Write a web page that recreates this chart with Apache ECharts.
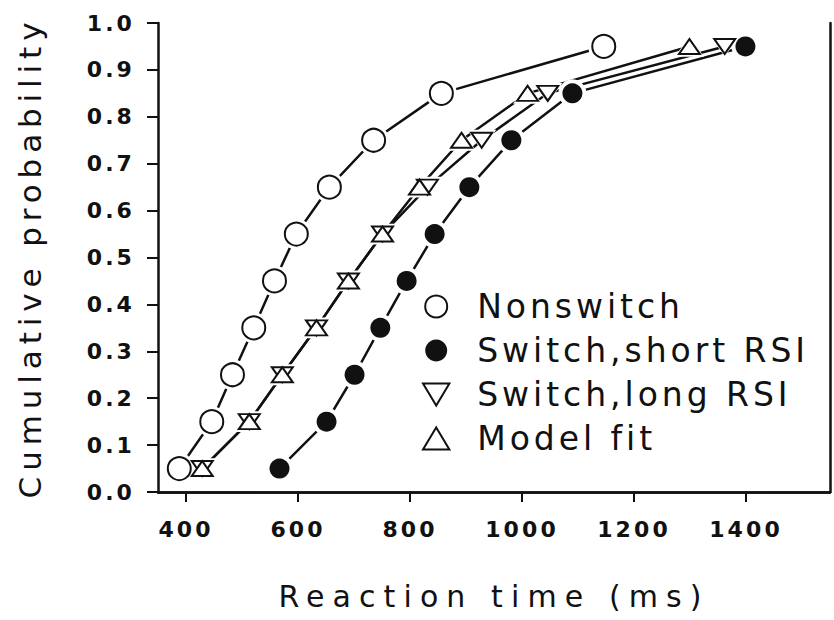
<!DOCTYPE html>
<html>
<head>
<meta charset="utf-8">
<script src="https://cdn.jsdelivr.net/npm/echarts@6/dist/echarts.min.js"></script>
<style>
html,body{margin:0;padding:0;background:#fff;}
#c{width:834px;height:620px;}
</style>
</head>
<body>
<div id="c"></div>
<script>
// ---- data ----
const probs = [0.05, 0.15, 0.25, 0.35, 0.45, 0.55, 0.65, 0.75, 0.85, 0.95];
const nonswitchRT   = [388, 446, 483, 521, 558, 597, 656, 735, 856, 1146];
const switchShortRT = [567, 651, 701, 747, 794, 844, 906, 981, 1090, 1399];
const switchLongRT  = [429, 513, 572, 633, 690, 751, 831, 928, 1046, 1362];
const modelFitRT    = [429, 513, 572, 633, 690, 751, 817, 892, 1010, 1299];
const xTicks = [400, 600, 800, 1000, 1200, 1400];
const yTicks = [0, 0.1, 0.2, 0.3, 0.4, 0.5, 0.6, 0.7, 0.8, 0.9, 1.0];
const seriesNames = ['Nonswitch', 'Switch,short RSI', 'Switch,long RSI', 'Model fit'];
const xTitle = 'Reaction time (ms)';
const yTitle = 'Cumulative probability';

// ---- styles ----
const INK = '#111';
const FONT = 'DejaVu Sans';
const DOWN_TRI = 'path://M0,0L24,0L12,20Z';
const UP_TRI = 'path://M0,20L24,20L12,0Z';

const sets = [
  { name: seriesNames[0], xs: nonswitchRT,   symbol: 'circle', size: 23, halo: 31, fill: '#fff', bw: 2 },
  { name: seriesNames[1], xs: switchShortRT, symbol: 'circle', size: 20, halo: 28, fill: INK,   bw: 0 },
  { name: seriesNames[2], xs: switchLongRT,  symbol: DOWN_TRI, size: [21, 18], halo: [29, 25], fill: '#fff', bw: 2 },
  { name: seriesNames[3], xs: modelFitRT,    symbol: UP_TRI,   size: [21, 18], halo: [29, 25], fill: '#fff', bw: 2 }
];

const pts = xs => xs.map((x, i) => [x, probs[i]]);

const series = [];
sets.forEach(s => {
  series.push({
    name: s.name + ' line', type: 'line', data: pts(s.xs), z: 2, silent: true,
    showSymbol: false, symbol: 'none',
    lineStyle: { color: INK, width: 2.5 }
  });
});
sets.forEach(s => {
  series.push({
    name: s.name + ' halo', type: 'scatter', data: pts(s.xs), z: 3, silent: true,
    symbol: s.symbol, symbolSize: s.halo, symbolKeepAspect: true,
    itemStyle: { color: '#fff', opacity: 1 }
  });
});
sets.forEach(s => {
  series.push({
    name: s.name, type: 'scatter', data: pts(s.xs), z: 4,
    symbol: s.symbol, symbolSize: s.size, symbolKeepAspect: true,
    itemStyle: { color: s.fill, borderColor: INK, borderWidth: s.bw, opacity: 1 }
  });
});

const axisLineStyle = { color: INK, width: 2.5 };

const option = {
  animation: false,
  backgroundColor: '#fff',
  grid: { left: 158, right: 4, top: 23, bottom: 128, containLabel: false },
  legend: {
    orient: 'vertical',
    left: 422,
    top: 290,
    padding: 0,
    itemWidth: 72,
    itemHeight: 22,
    itemGap: 11,
    symbolKeepAspect: true,
    selectedMode: false,
    textStyle: { fontFamily: FONT, fontSize: 33, color: INK, lineHeight: 33 },
    data: sets.map(s => ({
      name: s.name,
      icon: s.symbol,
      itemStyle: { color: s.fill, borderColor: INK, borderWidth: s.bw }
    }))
  },
  xAxis: [
    {
      type: 'value', position: 'bottom', min: 350, max: 1550,
      name: xTitle, nameLocation: 'middle', nameGap: 89,
      nameTextStyle: { fontFamily: FONT, fontSize: 30, color: INK },
      axisLine: { show: true, lineStyle: axisLineStyle },
      axisTick: { show: true, inside: false, length: 10, customValues: xTicks, lineStyle: { color: INK, width: 2 } },
      axisLabel: { show: true, customValues: xTicks, margin: 26, fontFamily: FONT, fontWeight: 'bold', fontSize: 22, color: INK,
        formatter: v => String(v) },
      splitLine: { show: false }
    },
    {
      type: 'value', position: 'top', min: 350, max: 1550,
      axisLine: { show: true, lineStyle: axisLineStyle },
      axisTick: { show: true, inside: true, length: 10, customValues: xTicks, lineStyle: { color: INK, width: 2 } },
      axisLabel: { show: false, customValues: xTicks },
      splitLine: { show: false }
    }
  ],
  yAxis: [
    {
      type: 'value', position: 'left', min: 0, max: 1, interval: 0.1,
      name: yTitle, nameLocation: 'middle', nameGap: 113,
      nameTextStyle: { fontFamily: FONT, fontSize: 31, color: INK },
      axisLine: { show: true, lineStyle: axisLineStyle },
      axisTick: { show: true, inside: false, length: 11, lineStyle: { color: INK, width: 2 } },
      axisLabel: { show: true, margin: 23, fontFamily: FONT, fontWeight: 'bold', fontSize: 22, color: INK,
        formatter: v => Number(v).toFixed(1) },
      splitLine: { show: false }
    },
    {
      type: 'value', position: 'right', min: 0, max: 1, interval: 0.1,
      axisLine: { show: true, lineStyle: axisLineStyle },
      axisTick: { show: false },
      axisLabel: { show: false },
      splitLine: { show: false }
    }
  ],
  series: series
};

const chart = echarts.init(document.getElementById('c'), null, { renderer: 'svg' });
chart.setOption(option);

// widen letter spacing to imitate the plotter lettering of the original figure
function spaceText() {
  document.querySelectorAll('#c text').forEach(t => {
    const s = t.textContent.trim();
    let ls = '0.14em';
    if (s === xTitle) ls = '0.27em';
    else if (s === yTitle) ls = '0.19em';
    else if (seriesNames.indexOf(s) >= 0) ls = '0.12em';
    t.style.letterSpacing = ls;
  });
}
chart.on('finished', spaceText);
spaceText();
setTimeout(spaceText, 30);
</script>
</body>
</html>
